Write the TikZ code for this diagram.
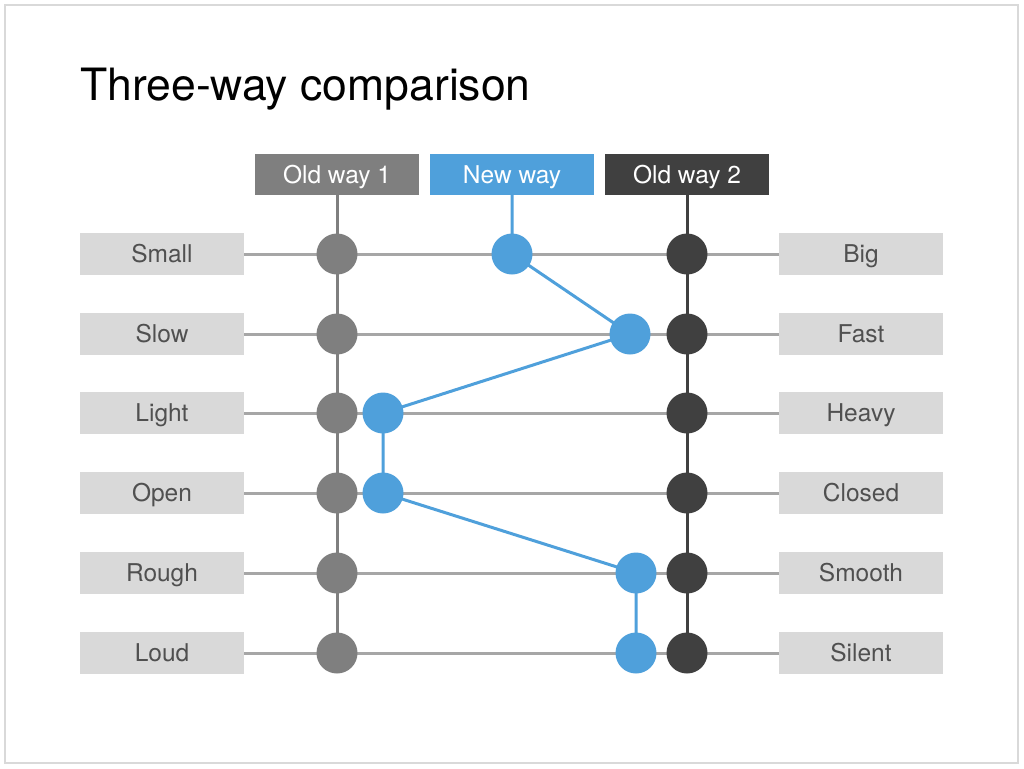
\documentclass[tikz,border=0pt]{standalone}
\usepackage{fontspec}
\setmainfont{TeX Gyre Heros}
\usetikzlibrary{backgrounds}
\definecolor{frameC}{HTML}{D9D9D9}
\definecolor{oldA}{HTML}{7F7F7F}
\definecolor{newC}{HTML}{4FA0DB}
\definecolor{oldB}{HTML}{404040}
\definecolor{boxC}{HTML}{D9D9D9}
\definecolor{txtC}{HTML}{505050}
\definecolor{lineC}{HTML}{A6A6A6}
\tikzset{
  labelbox/.style={fill=boxC, minimum width=164pt, minimum height=42pt, inner sep=0pt,
    text=txtC, font=\fontsize{24.5}{24.5}\selectfont, text height=17.6pt, text depth=0pt},
  headbox/.style={minimum width=164pt, minimum height=41pt, inner sep=0pt,
    text=white, font=\fontsize{24.5}{24.5}\selectfont, text height=17.6pt, text depth=0pt},
  dot/.style={circle, minimum size=41pt, inner sep=0pt},
  hline/.style={draw=lineC, line width=3pt},
  vline/.style={line width=3pt},
}
\begin{document}
\begin{tikzpicture}[x=1pt,y=-1pt]
\useasboundingbox (0,0) rectangle (1024,768);
\draw[frameC, line width=2pt] (5,5) rectangle (1018,763);
\node[anchor=base west, inner sep=0pt, font=\fontsize{44.5}{44.5}\selectfont] (title) at (80,100) {Three-way comparison};
% headers
\node[headbox, fill=oldA] (h1) at (337,174.5) {Old way 1};
\node[headbox, fill=newC] (h2) at (512,174.5) {New way};
\node[headbox, fill=oldB] (h3) at (687,174.5) {Old way 2};
% labels
\node[labelbox] (l1) at (162,254) {Small};
\node[labelbox] (l2) at (162,334) {Slow};
\node[labelbox] (l3) at (162,413) {Light};
\node[labelbox] (l4) at (162,493) {Open};
\node[labelbox] (l5) at (162,573) {Rough};
\node[labelbox] (l6) at (162,653) {Loud};
\node[labelbox] (r1) at (861,254) {Big};
\node[labelbox] (r2) at (861,334) {Fast};
\node[labelbox] (r3) at (861,413) {Heavy};
\node[labelbox] (r4) at (861,493) {Closed};
\node[labelbox] (r5) at (861,573) {Smooth};
\node[labelbox] (r6) at (861,653) {Silent};
% dots
\node[dot, fill=oldA] (a1) at (337,254) {};
\node[dot, fill=oldA] (a2) at (337,334) {};
\node[dot, fill=oldA] (a3) at (337,413) {};
\node[dot, fill=oldA] (a4) at (337,493) {};
\node[dot, fill=oldA] (a5) at (337,573) {};
\node[dot, fill=oldA] (a6) at (337,653) {};
\node[dot, fill=oldB] (c1) at (687,254) {};
\node[dot, fill=oldB] (c2) at (687,334) {};
\node[dot, fill=oldB] (c3) at (687,413) {};
\node[dot, fill=oldB] (c4) at (687,493) {};
\node[dot, fill=oldB] (c5) at (687,573) {};
\node[dot, fill=oldB] (c6) at (687,653) {};
\node[dot, fill=newC] (b1) at (512,254) {};
\node[dot, fill=newC] (b2) at (630,334) {};
\node[dot, fill=newC] (b3) at (383,413) {};
\node[dot, fill=newC] (b4) at (383,493) {};
\node[dot, fill=newC] (b5) at (636,573) {};
\node[dot, fill=newC] (b6) at (636,653) {};
\begin{scope}[on background layer]
\foreach \i in {1,...,6} {\draw[hline] (l\i.east) -- (r\i.west);}
\draw[vline, oldA] (h1.south) -- (a6.center);
\draw[vline, oldB] (h3.south) -- (c6.center);
\draw[vline, newC, line join=round] (h2.south) -- (b1.center) -- (b2.center) -- (b3.center) -- (b4.center) -- (b5.center) -- (b6.center);
\end{scope}
\end{tikzpicture}
\end{document}
